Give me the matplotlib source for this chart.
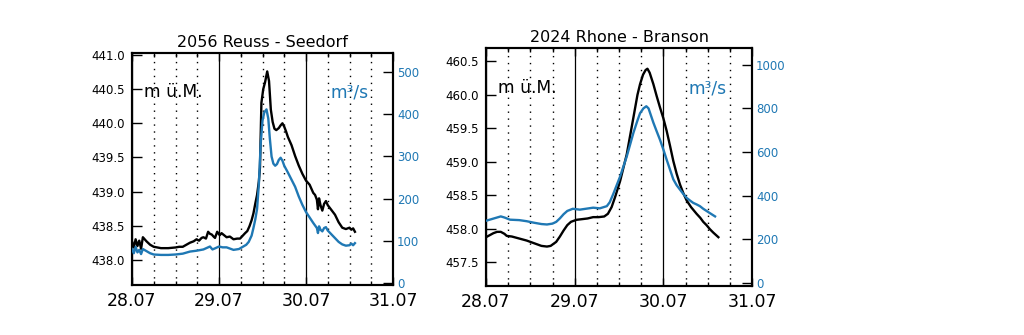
import matplotlib
matplotlib.use("Agg")
import matplotlib.pyplot as plt
from matplotlib.ticker import MultipleLocator, FormatStrFormatter, FixedLocator

# ---------------- data ----------------
# hours since 28.07 00:00
reuss_level_h = [0, 0.5, 1, 1.5, 2, 2.5, 3, 3.5, 4, 5, 6, 7, 8, 10, 12, 13, 14, 15, 16, 17,
                 17.8, 18.5, 19.2, 19.7, 20.4, 21, 21.5, 22, 22.5, 22.9, 23.5, 24.2, 24.7,
                 25.4, 26.1, 27, 28, 29, 29.8, 30.5, 31.2, 31.8, 32.4, 33, 33.5, 34, 34.5, 35,
                 35.3, 35.7, 36.2, 36.7, 37.3, 37.8, 38.3, 38.8, 39.3,
                 39.8, 40.5, 41, 41.5, 42, 42.5, 43, 44, 45, 46, 47, 48, 49, 50, 50.5, 51, 51.3,
                 51.6, 52, 52.5, 53, 53.5, 54, 55, 56, 57, 58, 59, 60, 60.5, 61, 61.5]
reuss_level = [438.27, 438.18, 438.30, 438.20, 438.28, 438.16, 438.33, 438.30, 438.27, 438.22,
               438.19, 438.18, 438.17, 438.17, 438.18, 438.19, 438.19, 438.22, 438.25, 438.27,
               438.30, 438.28, 438.32, 438.33, 438.31, 438.41, 438.38, 438.37, 438.34, 438.32,
               438.41, 438.36, 438.39, 438.36, 438.33, 438.34, 438.30, 438.31, 438.31, 438.35,
               438.39, 438.42, 438.49, 438.58, 438.68, 438.82, 438.95, 439.15,
               439.35, 440.30, 440.50, 440.60, 440.76, 440.62, 440.20,
               440.02, 439.92, 439.90, 439.93, 439.97, 440.00, 439.95, 439.88, 439.80, 439.68,
               439.52, 439.38, 439.26, 439.16, 439.10, 438.98, 438.95, 438.88, 438.74, 438.90,
               438.80, 438.72, 438.82, 438.86, 438.80, 438.73, 438.66, 438.55, 438.47, 438.45,
               438.47, 438.44, 438.46, 438.41]

reuss_flow_h = [0, 0.5, 1, 1.5, 2, 2.5, 3, 4, 5, 6, 8, 10, 12, 14, 16, 17.8, 19.7, 21.5, 22.2,
                23, 24, 25, 26.1, 28, 29.5, 30.7, 31.5, 32.2, 33, 33.5, 34, 34.5, 35, 35.5, 36,
                36.5, 37.1, 37.6, 38,
                38.5, 39, 39.5, 40, 40.5, 41, 41.5, 42, 43, 44, 45, 46, 47, 48, 49, 50, 50.5,
                51, 51.3, 51.6, 52, 52.5, 53, 53.5, 54, 55, 56, 57, 58, 59, 60, 60.5, 61, 61.5]
reuss_flow = [80, 70, 85, 72, 78, 68, 80, 75, 70, 67, 66, 66, 67, 69, 74, 76, 79, 86, 79,
              82, 86, 84, 84, 78, 80, 86, 90, 97, 112, 130, 150, 175, 235, 330, 385, 405, 412,
              390, 345, 300, 283, 278, 282, 292, 297, 290, 278, 262, 245, 228, 205, 185, 168,
              155, 142, 136, 130, 118, 134, 126, 122, 130, 132, 124, 115, 106, 97, 91, 88, 89,
              93, 89, 94]

rhone_level_h = [0, 1, 2, 3, 4, 5, 5.6, 7, 9, 11, 13, 15, 16.5, 17.5, 19, 20, 21, 22, 23, 24.5,
                 26, 27.5, 29, 30.5, 32, 33, 34, 35, 36.3, 38.1, 39.9, 41, 41.7, 42.5, 43.2,
                 43.7, 44.3, 45.3, 46.2, 47.1, 48, 48.9, 49.8, 50.7, 51.6, 52.5, 53.4, 54.3,
                 55.5, 57, 58, 58.8, 59.7, 60.6, 61.5, 62.9]
rhone_level = [457.87, 457.90, 457.93, 457.95, 457.95, 457.92, 457.89, 457.88, 457.85, 457.82,
               457.78, 457.74, 457.73, 457.74, 457.80, 457.88, 457.97, 458.05, 458.10, 458.13,
               458.14, 458.15, 458.17, 458.17, 458.18, 458.22, 458.32, 458.48, 458.71, 459.11,
               459.66, 460.00, 460.16, 460.30, 460.37, 460.39, 460.33, 460.16, 459.98, 459.81,
               459.65, 459.46, 459.24, 459.01, 458.82, 458.66, 458.53, 458.42, 458.32, 458.22,
               458.16, 458.10, 458.05, 457.99, 457.94, 457.87]

rhone_flow_h = [0, 2, 4, 5, 6.5, 9, 11, 13, 15, 16.5, 18, 19, 20, 21, 22, 23.5, 25.4, 27, 29,
                30.8, 32.7, 33.5, 34.5, 36.3, 38.1, 39.9, 41, 41.7, 42.6, 43.4, 44, 45.3, 46.2,
                47.1, 48, 48.9, 49.8, 50.7, 51.6, 52.5, 53.4, 54.3, 55.2, 56.1, 57, 57.9, 58.8,
                59.7, 60.6, 62]
rhone_flow = [285, 295, 305, 300, 290, 288, 283, 276, 270, 268, 272, 280, 296, 315, 330, 340,
              336, 340, 345, 342, 352, 370, 410, 488, 580, 688, 745, 778, 800, 810, 800, 735,
              695, 656, 612, 565, 520, 475, 448, 428, 408, 390, 378, 367, 360, 352, 340, 330,
              320, 305]

day_ticks = [0, 24, 48, 72]
day_labels = ["28.07", "29.07", "30.07", "31.07"]
titles = ["2056 Reuss - Seedorf", "2024 Rhone - Branson"]

BLUE = "#1f78b4"

fig = plt.figure(figsize=(10.24, 3.35), dpi=100)
W, H = 1024, 335


def panel(rect, hl, lv, hq, q, title, lvlim, qlim, lvticks, qticks):
    ax = fig.add_axes(rect)
    ax2 = ax.twinx()
    ax.plot(hl, lv, color="black", lw=1.7, zorder=3)
    ax2.plot(hq, q, color=BLUE, lw=1.7, zorder=3)
    ax.set_xlim(0, 72)
    ax.set_ylim(*lvlim)
    ax2.set_ylim(*qlim)
    ax.xaxis.set_major_locator(FixedLocator(day_ticks))
    ax.set_xticklabels(day_labels)
    ax.xaxis.set_minor_locator(MultipleLocator(6))
    ax.set_yticks(lvticks)
    ax.yaxis.set_major_formatter(FormatStrFormatter("%.1f"))
    ax2.set_yticks(qticks)
    ax.grid(which="major", axis="x", color="black", lw=0.9, ls="-")
    ax.grid(which="minor", axis="x", color="black", lw=1.0, ls=(0, (1, 4.0)))
    ax.set_axisbelow(True)
    ax.tick_params(axis="x", which="major", direction="in", top=True, length=6,
                   labelsize=12.5, pad=5, width=1)
    ax.tick_params(axis="x", which="minor", direction="in", top=True, length=3, width=1)
    ax.tick_params(axis="y", direction="in", length=7, labelsize=8.5, pad=5, width=1)
    ax2.tick_params(axis="y", direction="in", length=7, labelsize=8.5, pad=3, width=1,
                    colors=BLUE)
    ax2.tick_params(axis="y", color="black")
    for a in (ax, ax2):
        for s in a.spines.values():
            s.set_linewidth(1.5)
            s.set_color("black")
    ax.set_title(title, fontsize=11.5, pad=4)
    ax.text(0.045, 0.83, "m ü.M.", transform=ax.transAxes, fontsize=12.3,
            va="center", ha="left", color="black", zorder=5)
    ax.text(0.905, 0.83, "m³/s", transform=ax.transAxes, fontsize=12.3,
            va="center", ha="right", color=BLUE, zorder=5)
    return ax, ax2


panel([132 / W, 1 - 285 / H, (393 - 132) / W, (285 - 53) / H],
      reuss_level_h, reuss_level, reuss_flow_h, reuss_flow, titles[0],
      (437.63, 441.03), (-5.5, 546),
      [438.0, 438.5, 439.0, 439.5, 440.0, 440.5, 441.0], [0, 100, 200, 300, 400, 500])

panel([486 / W, 1 - 286 / H, (752 - 486) / W, (286 - 48) / H],
      rhone_level_h, rhone_level, rhone_flow_h, rhone_flow, titles[1],
      (457.14, 460.70), (-14, 1077),
      [457.5, 458.0, 458.5, 459.0, 459.5, 460.0, 460.5], [0, 200, 400, 600, 800, 1000])

fig.savefig("out.png", dpi=100)
